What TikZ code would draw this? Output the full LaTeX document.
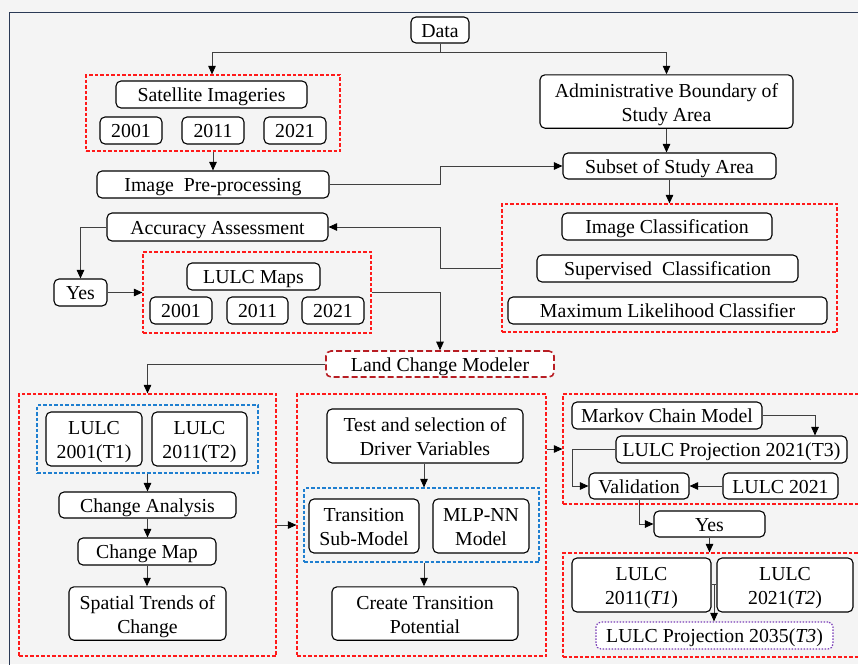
\documentclass[tikz,border=0pt]{standalone}
\usepackage{fontspec}
\setmainfont{Liberation Serif}
\usetikzlibrary{arrows.meta}
\definecolor{bgc}{HTML}{F4F4F4}
\definecolor{framec}{HTML}{2B3A55}
\definecolor{redd}{HTML}{FF1A1A}
\definecolor{darkred}{HTML}{B81E24}
\definecolor{blued}{HTML}{1F7FD0}
\definecolor{purpled}{HTML}{7A3DB8}
\definecolor{linec}{HTML}{404040}
\newcommand\twolines[2]{\begin{tabular}{@{}c@{}}\rule{0pt}{22.2pt}#1\\#2\end{tabular}}
\tikzset{
  box/.style={draw=black, line width=1.1pt, rounded corners=5pt, fill=white, inner sep=0pt, align=center,
    font=\fontsize{19.8}{24}\selectfont,
    execute at begin node={\rule{0pt}{19.1pt}},
    execute at end node={\rule[-4.5pt]{0pt}{4.5pt}}},
  twoline/.style={execute at begin node={}, execute at end node={}},
  redgrp/.style={draw=redd, line width=1.2pt, dash pattern=on 3.5pt off 2pt, inner sep=0pt},
  bluegrp/.style={draw=blued, line width=1.2pt, dash pattern=on 3.5pt off 2pt, inner sep=0pt},
  lcmbox/.style={box, draw=darkred, line width=1.6pt, dash pattern=on 6pt off 3pt},
  projbox/.style={box, draw=purpled, line width=1.2pt, dash pattern=on 1.5pt off 1.5pt},
  conn/.style={draw=linec, line width=0.9pt},
  arr/.style={conn, -{Triangle[length=8.5pt,width=7.5pt,color=black]}},
}
\begin{document}
\begin{tikzpicture}[x=1pt,y=-1pt]
\useasboundingbox (0,0) rectangle (858,664);
\fill[bgc] (0,0) rectangle (858,664);
\draw[framec, line width=1pt] (9,670) -- (9,12) -- (870,12);

% groups
\node[redgrp, minimum width=254pt, minimum height=76pt] (satgrp) at (213,113) {};
\node[redgrp, minimum width=335pt, minimum height=128pt] (clsgrp) at (669.5,268) {};
\node[redgrp, minimum width=228pt, minimum height=81pt] (mapgrp) at (257,292.5) {};
\node[redgrp, minimum width=257pt, minimum height=262pt] (leftgrp) at (147.5,525) {};
\node[redgrp, minimum width=249pt, minimum height=262pt] (midgrp) at (421.5,525) {};
\node[redgrp, minimum width=307pt, minimum height=110pt] (rtgrp) at (716.5,449) {};
\node[redgrp, minimum width=307pt, minimum height=104pt] (rbgrp) at (716.5,605) {};
\node[bluegrp, minimum width=221pt, minimum height=68pt] (bluel) at (147.5,439) {};
\node[bluegrp, minimum width=235pt, minimum height=74pt] (bluem) at (421.5,525) {};

% nodes
\node[box, minimum width=58pt, minimum height=26pt] (data) at (440,30) {Data};
\node[box, minimum width=191pt, minimum height=27pt] (sat) at (211.5,94.5) {Satellite Imageries};
\node[box, minimum width=62pt, minimum height=27pt] (s01) at (131,130.5) {2001};
\node[box, minimum width=62pt, minimum height=27pt] (s11) at (213,130.5) {2011};
\node[box, minimum width=62pt, minimum height=27pt] (s21) at (295,130.5) {2021};
\node[box, minimum width=232pt, minimum height=27pt] (pre) at (213,184.5) {Image\ \ Pre-processing};
\node[box, twoline, minimum width=253pt, minimum height=53pt] (admin) at (666.5,101.5) {\twolines{Administrative Boundary of}{Study Area}};
\node[box, minimum width=213pt, minimum height=26pt] (subset) at (669.5,166) {Subset of Study Area};
\node[box, minimum width=210pt, minimum height=27pt] (imgcls) at (667,226.5) {Image Classification};
\node[box, minimum width=261pt, minimum height=27pt] (sup) at (667.5,268.5) {Supervised\ \ Classification};
\node[box, minimum width=319pt, minimum height=27pt] (mlc) at (667.5,310.5) {Maximum Likelihood Classifier};
\node[box, minimum width=221pt, minimum height=28pt] (acc) at (217.5,227) {Accuracy Assessment};
\node[box, minimum width=53pt, minimum height=27pt] (yes1) at (80.5,292.5) {Yes};
\node[box, minimum width=133pt, minimum height=27pt] (maps) at (253.5,276.5) {LULC Maps};
\node[box, minimum width=62pt, minimum height=27pt] (m01) at (181,310.5) {2001};
\node[box, minimum width=61pt, minimum height=27pt] (m11) at (257.5,310.5) {2011};
\node[box, minimum width=62pt, minimum height=27pt] (m21) at (333,310.5) {2021};
\node[lcmbox, minimum width=228pt, minimum height=26pt] (lcm) at (440,364) {Land Change Modeler};

\node[box, twoline, minimum width=96pt, minimum height=54pt] (l01) at (94,439) {\twolines{LULC}{2001(T1)}};
\node[box, twoline, minimum width=95pt, minimum height=54pt] (l11) at (199.5,439) {\twolines{LULC}{2011(T2)}};
\node[box, minimum width=177pt, minimum height=26pt] (chana) at (147.5,505) {Change Analysis};
\node[box, minimum width=138pt, minimum height=27pt] (chmap) at (147,551.5) {Change Map};
\node[box, twoline, minimum width=157pt, minimum height=53pt] (trend) at (147.5,613.5) {\twolines{Spatial Trends of}{Change}};

\node[box, twoline, minimum width=196pt, minimum height=54pt] (test) at (425,436) {\twolines{Test and selection of}{Driver Variables}};
\node[box, twoline, minimum width=110pt, minimum height=54pt] (trans) at (364,526) {\twolines{Transition}{Sub-Model}};
\node[box, twoline, minimum width=96pt, minimum height=54pt] (mlp) at (481,526) {\twolines{MLP-NN}{Model}};
\node[box, twoline, minimum width=186pt, minimum height=53pt] (create) at (425,613.5) {\twolines{Create Transition}{Potential}};

\node[box, minimum width=190pt, minimum height=27pt] (markov) at (667,415.5) {Markov Chain Model};
\node[box, minimum width=231pt, minimum height=27pt] (proj21) at (731.5,449.5) {LULC Projection 2021(T3)};
\node[box, minimum width=100pt, minimum height=26pt] (valid) at (639,486) {Validation};
\node[box, minimum width=115pt, minimum height=26pt] (l2021) at (780.5,486) {LULC 2021};
\node[box, minimum width=111pt, minimum height=26pt] (yes2) at (709.5,524) {Yes};
\node[box, twoline, minimum width=139pt, minimum height=54pt] (r11) at (641.5,585) {\twolines{LULC}{2011(\textit{T1})}};
\node[box, twoline, minimum width=136pt, minimum height=54pt] (r21) at (785,585) {\twolines{LULC}{2021(\textit{T2})}};
\node[projbox, minimum width=237pt, minimum height=27pt] (proj35) at (714.5,635.5) {LULC Projection 2035(\textit{T3})};

% connectors
\coordinate (j1) at (440,52);
\draw[conn] (data.south) -- (j1);
\draw[arr] (j1) -| ([xshift=-1pt]satgrp.north);
\draw[arr] (j1) -| (admin.north);
\draw[arr] (satgrp.south) -- (pre.north);
\draw[arr] (admin.south) -- (admin.south |- subset.north);
\draw[arr] (pre.east) -- (440,184.5) |- (subset.west);
\draw[arr] (subset.south) -- (clsgrp.north);
\draw[arr] (clsgrp.west) -- (440,268) |- (acc.east);
\draw[arr] (acc.west) -| (yes1.north);
\draw[arr] (yes1.east) -- (mapgrp.west);
\draw[arr] (mapgrp.east) -| (lcm.north);
\draw[arr] (lcm.west) -| (leftgrp.north);
\draw[arr] (bluel.south) -- (chana.north);
\draw[arr] (chana.south) -- (chana.south |- chmap.north);
\draw[arr] (chmap.south) -- (chmap.south |- trend.north);
\draw[arr] (leftgrp.east) -- (midgrp.west);
\coordinate (mx) at (424,0);
\draw[arr] (mx |- test.south) -- (mx |- bluem.north);
\draw[arr] (mx |- bluem.south) -- (mx |- create.north);
\draw[arr] (midgrp.east |- rtgrp.west) -- (rtgrp.west);
\coordinate (kx) at (815,0);
\draw[arr] (markov.east) -| (kx |- proj21.north);
\draw[arr] (proj21.west) -- (572,449.5) |- (valid.west);
\draw[arr] (l2021.west) -- (valid.east);
\draw[arr] (valid.south) |- (yes2.west);
\draw[arr] (yes2.south) -- (yes2.south |- rbgrp.north);
\coordinate (jr) at (714,584);
\draw[conn] (r11.east |- jr) -- (jr) -- (r21.west |- jr);
\draw[arr] (jr) -- (jr |- proj35.north);
\end{tikzpicture}
\end{document}
